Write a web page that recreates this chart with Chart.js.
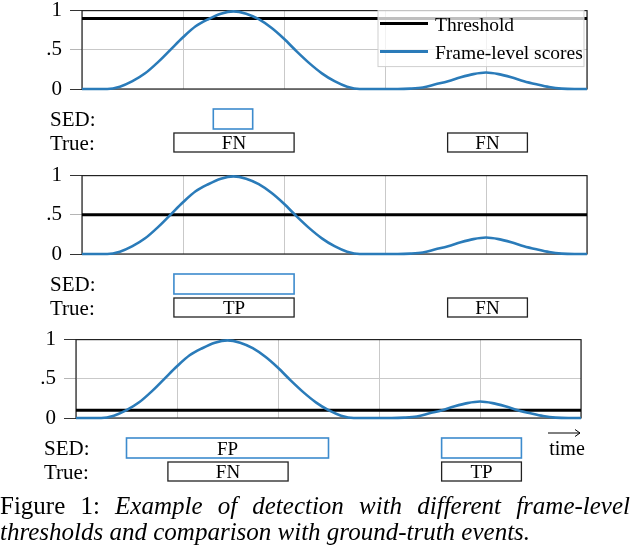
<!DOCTYPE html>
<html>
<head>
<meta charset="utf-8">
<script src="https://cdn.jsdelivr.net/npm/chart.js@4.4.1/dist/chart.umd.min.js"></script>
<style>
  html, body { margin: 0; padding: 0; background: #fff; }
  body { width: 630px; height: 552px; position: relative; overflow: hidden; font-family: 'Liberation Serif', serif; }
  canvas.panel { position: absolute; }
  #caption { position: absolute; left: 0; top: 493px; width: 630px; font-size: 25px; line-height: 26px; color: #000; }
  #caption .l1 { text-align: justify; text-align-last: justify; }
</style>
</head>
<body>
<canvas id="p0" class="panel" width="630" height="169" style="left:0;top:-10px"></canvas>
<canvas id="p1" class="panel" width="630" height="169" style="left:0;top:155px"></canvas>
<canvas id="p2" class="panel" width="630" height="169" style="left:-6px;top:319px"></canvas>
<div id="caption">
  <div class="l1">Figure 1: <i>Example of detection with different frame-level</i></div>
  <div><i>thresholds and comparison with ground-truth events.</i></div>
</div>
<script>
const timeSteps = [0, 0.125, 0.25, 0.375, 0.5, 0.625, 0.75, 0.875, 1, 1.125, 1.25, 1.375, 1.5, 1.625, 1.75, 1.875, 2,
  2.125, 2.25, 2.375, 2.5, 2.625, 2.75, 2.875, 3, 3.125, 3.25, 3.375, 3.5, 3.625, 3.75, 3.875, 4,
  4.125, 4.25, 4.375, 4.5, 4.625, 4.75, 4.875, 5];
const frameScores = [0, 0, 0, 0.03, 0.1, 0.2, 0.34, 0.5, 0.66, 0.8, 0.89, 0.96, 0.99, 0.96, 0.89, 0.78, 0.64,
  0.48, 0.33, 0.2, 0.1, 0.03, 0, 0, 0, 0, 0.005, 0.02, 0.06, 0.1, 0.15, 0.19, 0.21,
  0.19, 0.15, 0.1, 0.06, 0.025, 0.005, 0, 0];
const thresholds = [0.9, 0.5, 0.1];
const yTickLabels = ['0', '.5', '1'];

// ground truth events (same in every panel) and what the detector outputs
const trueEvents = [[0.91, 2.1], [3.62, 4.41]];
const trueLabels = [['FN', 'FN'], ['TP', 'FN'], ['FN', 'TP']];
const sedEvents = [[[1.3, 1.69]], [[0.91, 2.1]], [[0.5, 2.5], [3.62, 4.41]]];
const sedLabels = [[''], [''], ['FP', '']];

const SERIF = 'Liberation Serif';
const BLUE = '#2a7bb9';
const BOX_BLUE = '#3d8bcd';

function drawBox(ctx, x0, x1, top, h, color, label) {
  ctx.strokeStyle = color;
  ctx.lineWidth = color === BOX_BLUE ? 1.6 : 1.3;
  ctx.strokeRect(x0, top, x1 - x0, h);
  if (label) {
    ctx.fillStyle = '#000';
    ctx.font = '19px ' + SERIF;
    ctx.textAlign = 'center';
    ctx.textBaseline = 'alphabetic';
    ctx.fillText(label, (x0 + x1) / 2, top + h / 2 + 6.5);
  }
}

function panelPlugin(p) {
  return {
    id: 'panel' + p,
    beforeDatasetsDraw(chart) {
      const { ctx, chartArea: a } = chart;
      ctx.save();
      ctx.strokeStyle = '#222';
      ctx.lineWidth = 1.2;
      ctx.strokeRect(a.left, a.top, a.right - a.left, a.bottom - a.top);
      ctx.restore();
    },
    afterDraw(chart) {
      const { ctx, chartArea: a, scales: { x } } = chart;
      ctx.save();
      const sedTop = a.bottom + 20, trueTop = a.bottom + 44, h = 20;

      ctx.fillStyle = '#000';
      ctx.font = '21px ' + SERIF;
      ctx.textAlign = 'left';
      ctx.textBaseline = 'alphabetic';
      ctx.fillText('SED:', 50, sedTop + h / 2 + 7);
      ctx.fillText('True:', 50, trueTop + h / 2 + 7);

      sedEvents[p].forEach((ev, i) => {
        drawBox(ctx, x.getPixelForValue(ev[0]), x.getPixelForValue(ev[1]), sedTop, h, BOX_BLUE, sedLabels[p][i]);
      });
      trueEvents.forEach((ev, i) => {
        drawBox(ctx, x.getPixelForValue(ev[0]), x.getPixelForValue(ev[1]), trueTop, h - 1, '#222', trueLabels[p][i]);
      });

      if (p === 0) {
        // legend box in the top right corner of the plot
        const lx = a.right - 209, ly = a.top, lw = 206, lh = 56;
        ctx.fillStyle = 'rgba(255,255,255,0.75)';
        ctx.fillRect(lx, ly, lw, lh);
        ctx.strokeStyle = '#cfcfcf';
        ctx.lineWidth = 1;
        ctx.strokeRect(lx, ly, lw, lh);
        [0, 1].forEach((di, k) => {
          const ds = chart.data.datasets[di];
          const yy = ly + 13 + k * 28;
          ctx.strokeStyle = ds.borderColor;
          ctx.lineWidth = 3;
          ctx.beginPath();
          ctx.moveTo(lx + 2, yy);
          ctx.lineTo(lx + 50, yy);
          ctx.stroke();
          ctx.fillStyle = '#000';
          ctx.font = '19.5px ' + SERIF;
          ctx.textAlign = 'left';
          ctx.fillText(ds.label, lx + 57, yy + 7);
        });
      }

      if (p === 2) {
        // time arrow
        const ax0 = a.right - 33, ax1 = a.right - 1, ay = a.bottom + 15;
        ctx.strokeStyle = '#000';
        ctx.lineWidth = 1;
        ctx.beginPath();
        ctx.moveTo(ax0, ay);
        ctx.lineTo(ax1, ay);
        ctx.moveTo(ax1 - 5, ay - 3.5);
        ctx.lineTo(ax1, ay);
        ctx.lineTo(ax1 - 5, ay + 3.5);
        ctx.stroke();
        ctx.fillStyle = '#000';
        ctx.font = '20px ' + SERIF;
        ctx.textAlign = 'center';
        ctx.fillText('time', a.right - 14, a.bottom + 37);
      }
      ctx.restore();
    }
  };
}

thresholds.forEach((t, p) => {
  new Chart(document.getElementById('p' + p), {
    type: 'line',
    data: {
      datasets: [{
        label: 'Threshold',
        data: [{ x: timeSteps[0], y: t }, { x: timeSteps[timeSteps.length - 1], y: t }],
        borderColor: '#000',
        borderWidth: 3,
        pointRadius: 0,
        order: 2,
      }, {
        label: 'Frame-level scores',
        data: timeSteps.map((s, i) => ({ x: s, y: frameScores[i] })),
        borderColor: BLUE,
        borderWidth: 2.6,
        cubicInterpolationMode: 'monotone',
        pointRadius: 0,
        clip: 4,
        order: 1,
      }],
    },
    options: {
      responsive: false,
      animation: false,
      layout: { padding: { top: 0, right: 43, left: 0, bottom: 0 } },
      plugins: { legend: { display: false }, tooltip: { enabled: false } },
      scales: {
        x: {
          type: 'linear', min: 0, max: 5,
          ticks: { display: false, stepSize: 1 },
          grid: { color: '#c9c9c9', drawTicks: false },
          border: { display: false },
          afterFit: s => { s.height = 70; },
        },
        y: {
          min: 0, max: 1,
          ticks: {
            stepSize: 0.5, padding: 8, color: '#000',
            font: { family: SERIF, size: 21 },
            callback: (v, i) => yTickLabels[i],
          },
          grid: {
            color: '#c9c9c9', tickLength: 12,
            tickColor: c => (c.tick && c.tick.value === 0.5 ? '#b5b5b5' : '#333'),
          },
          border: { display: false },
          afterFit: s => { s.width = 82; },
        },
      },
    },
    plugins: [panelPlugin(p)],
  });
});
</script>
</body>
</html>
